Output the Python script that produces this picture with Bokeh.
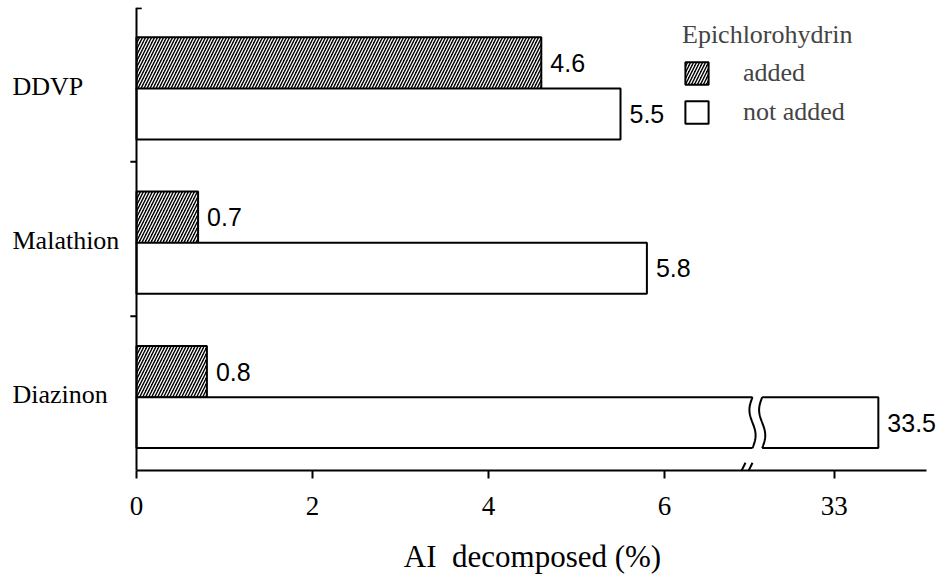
import numpy as np
from bokeh.plotting import figure
from bokeh.layouts import row
from bokeh.models import (ColumnDataSource, Range1d, FixedTicker, Label, Legend,
                          LegendItem, Arrow)
from bokeh.core.properties import value
from bokeh.embed import file_html
from bokeh.resources import INLINE

# ---------------- data ----------------
categories = ["DDVP", "Malathion", "Diazinon"]
added = [4.6, 0.7, 0.8]
not_added = [5.5, 5.8, 33.5]
tick_values = [0, 2, 4, 6, 33]
legend_title = "Epichlorohydrin"
series_names = ["added", "not added"]
x_label = "AI\u00a0 decomposed (%)"

# ---------------- broken axis ----------------
BREAK_AT = 7.0      # values above this sit on the segment after the break
SEG_START = 33.0    # first value of the segment after the break
SEG_POS = 7.93      # axis position of SEG_START
AXIS_BREAK = 6.93   # where the "//" mark sits on the axis
BAR_BREAK = (7.0, 7.11)
AXIS_END = 8.98


def axis_x(v):
    return v if v <= BREAK_AT else SEG_POS + (v - SEG_START)


n = len(categories)
slots = [n - 1 - i for i in range(n)]          # first category on top
y_added = [s + 0.64 for s in slots]
y_not = [s + 0.31 for s in slots]
H_ADDED, H_NOT = 0.335, 0.33

SERIF = "Liberation Serif"
SANS = "Liberation Sans"

LEFT_W = 121
PX_PER_UNIT = 88.0
x0 = -(136 - LEFT_W) / PX_PER_UNIT
y_range = Range1d(0, 3)

# ---------------- left strip: category names ----------------
pl = figure(width=LEFT_W, height=585, x_range=Range1d(0, LEFT_W), y_range=y_range,
            output_backend="svg", toolbar_location=None,
            x_axis_location=None, y_axis_location=None,
            min_border_left=0, min_border_right=0, min_border_top=7,
            min_border_bottom=115)
pl.outline_line_color = None
pl.xgrid.visible = False
pl.ygrid.visible = False
cat_src = ColumnDataSource(dict(x=[12] * n, y=[s + 0.49 for s in slots], text=categories))
pl.text(x="x", y="y", text="text", source=cat_src, text_align="left",
        text_baseline="middle", text_font=value(SERIF), text_font_size="26px",
        text_color="black")

# ---------------- main chart ----------------
p = figure(width=943 - LEFT_W, height=585,
           x_range=Range1d(x0, x0 + (943 - LEFT_W) / PX_PER_UNIT), y_range=y_range,
           output_backend="svg", toolbar_location=None,
           min_border_left=0, min_border_right=0, min_border_top=7,
           min_border_bottom=115)
p.outline_line_color = None
p.xgrid.visible = False
p.ygrid.visible = False
p.background_fill_color = "white"

src_a = ColumnDataSource(dict(y=y_added, right=[axis_x(v) for v in added]))
src_n = ColumnDataSource(dict(y=y_not, right=[axis_x(v) for v in not_added]))

r_add = p.hbar(y="y", left=0, right="right", height=H_ADDED, source=src_a,
               fill_color="black", hatch_pattern="/", hatch_color="white",
               hatch_weight=1.3, hatch_scale=6, line_color="black", line_width=2)
r_not = p.hbar(y="y", left=0, right="right", height=H_NOT, source=src_n,
               fill_color="white", line_color="black", line_width=2)

# break marks in bars that reach the segment after the break
for yv, v in zip(y_not, not_added):
    if v > BREAK_AT:
        b0, b1 = BAR_BREAK
        p.quad(left=b0, right=b1, bottom=yv - H_NOT / 2 - 0.02, top=yv + H_NOT / 2 + 0.02,
               fill_color="white", line_color=None)
        t = np.linspace(0, 1, 40)
        ys = yv - H_NOT / 2 + H_NOT * t
        for bx in (b0, b1):
            p.line(bx + 0.035 * np.sin(2 * np.pi * t), ys, line_color="black", line_width=2)

# value labels
for vals, ys in ((added, y_added), (not_added, y_not)):
    for v, yv in zip(vals, ys):
        p.add_layout(Label(x=axis_x(v), y=yv, text=str(v), x_offset=9,
                           text_baseline="middle", text_font=SANS,
                           text_font_size="25px", text_color="black"))

# x axis (line only over the data span)
xa = p.xaxis[0]
tick_pos = [axis_x(t) for t in tick_values]
xa.bounds = (0, AXIS_END)
xa.ticker = FixedTicker(ticks=tick_pos)
xa.major_label_overrides = {tp: str(t) for tp, t in zip(tick_pos, tick_values)}
xa.minor_tick_line_color = None
xa.major_tick_out = 8
xa.major_tick_in = 0
xa.major_tick_line_width = 2
xa.axis_line_width = 2
xa.major_label_standoff = 18
xa.major_label_text_font = SERIF
xa.major_label_text_font_size = "27px"
xa.major_label_text_color = "black"
xa.axis_label = x_label
xa.axis_label_text_font = SERIF
xa.axis_label_text_font_size = "31px"
xa.axis_label_text_font_style = "normal"
xa.axis_label_text_color = "black"
xa.axis_label_standoff = 21

# y axis at x = 0; category separators drawn as short ticks
ya = p.yaxis[0]
ya.fixed_location = 0
ya.bounds = (0, 3)
ya.ticker = FixedTicker(ticks=[])
ya.minor_tick_line_color = None
ya.major_tick_out = 0
ya.major_label_standoff = 0
ya.axis_line_width = 2
for s in slots[:-1]:
    p.add_layout(Arrow(end=None, x_start=0, y_start=s, x_end=-0.07, y_end=s,
                       line_color="black", line_width=2))
p.add_layout(Arrow(end=None, x_start=0, y_start=2.995, x_end=0.06, y_end=2.995,
                   line_color="black", line_width=2))

# "//" break mark on the x axis
for cx in (AXIS_BREAK - 0.04, AXIS_BREAK + 0.04):
    p.add_layout(Arrow(end=None, x_start=cx - 0.03, y_start=-0.02,
                       x_end=cx + 0.03, y_end=0.05, line_color="black", line_width=2))

legend = Legend(items=[LegendItem(label=series_names[0], renderers=[r_add]),
                       LegendItem(label=series_names[1], renderers=[r_not])],
                title=legend_title, location=(682 - LEFT_W, 343),
                glyph_width=29, glyph_height=28, label_height=28, label_standoff=32,
                spacing=9, padding=0, margin=0, border_line_alpha=0,
                background_fill_alpha=0, label_text_font=SERIF,
                label_text_font_size="26px", title_text_font=SERIF,
                title_text_font_size="26px", title_text_font_style="normal",
                title_standoff=8)
p.add_layout(legend)

layout = row(pl, p, spacing=0)
open("out.html", "w").write(file_html(layout, INLINE))
